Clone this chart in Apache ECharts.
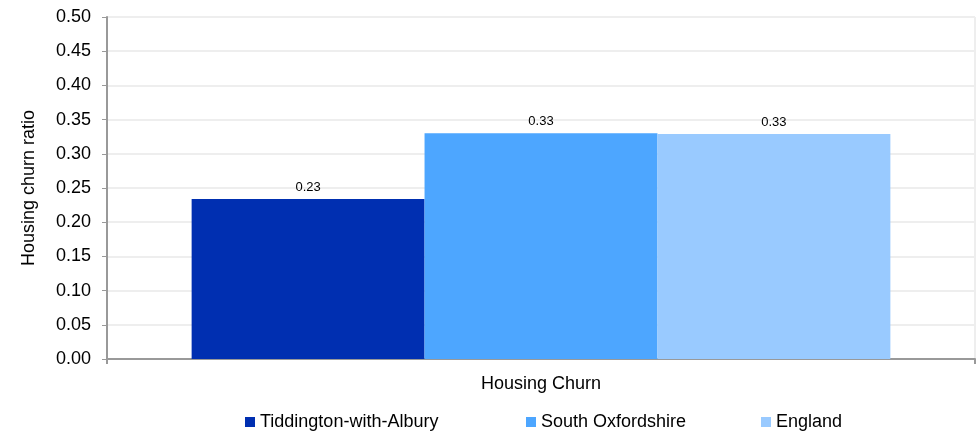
<!DOCTYPE html>
<html><head><meta charset="utf-8">
<script src="https://cdn.jsdelivr.net/npm/echarts@6/dist/echarts.min.js"></script>
<style>html,body{margin:0;padding:0;background:#fff}#c{width:978px;height:433px}</style>
</head><body><div id="c"></div>
<script>
const categories = ['Housing Churn'];
const seriesNames = ['Tiddington-with-Albury', 'South Oxfordshire', 'England'];
const tiddington = [0.234];
const southOxon = [0.330];
const england = [0.329];
const colors = ['#002FB1', '#4DA6FF', '#99CAFF'];
const font = 'Liberation Sans, Arial, sans-serif';

const chart = echarts.init(document.getElementById('c'));
const mk = (name, data, color) => ({
  name, type: 'bar', data, barGap: '0%', barCategoryGap: '19.5%',
  itemStyle: { color },
  label: { show: true, position: 'top', formatter: p => p.value.toFixed(2), fontFamily: font, fontSize: 13, color: '#000', distance: 5 }
});
const legendLefts = [240, 521, 756];
chart.setOption({
  animation: false,
  textStyle: { fontFamily: font },
  grid: { left: 107, right: 3, top: 17, bottom: 74 },
  legend: seriesNames.map((n, i) => ({
    top: 408, left: legendLefts[i], itemWidth: 10, itemHeight: 10, itemGap: 0, padding: [5, 5, 5, 5],
    icon: 'rect', textStyle: { fontFamily: font, fontSize: 18, color: '#000' },
    data: [n]
  })),
  xAxis: {
    type: 'category', data: categories,
    axisLine: { lineStyle: { color: '#999', width: 2 } },
    axisTick: { show: true, length: 5, lineStyle: { color: '#999', width: 2 } },
    axisLabel: { fontFamily: font, fontSize: 18, color: '#000', margin: 16 },
    splitLine: { show: true, lineStyle: { color: '#eee', width: 2 } }
  },
  yAxis: {
    type: 'value', min: 0, max: 0.5, interval: 0.05,
    name: 'Housing churn ratio', nameLocation: 'middle', nameGap: 69,
    nameTextStyle: { fontFamily: font, fontSize: 18, color: '#000' },
    axisLine: { show: true, lineStyle: { color: '#999', width: 2 } },
    axisTick: { show: true, length: 5, lineStyle: { color: '#999' } },
    axisLabel: { fontFamily: font, fontSize: 18, color: '#000', margin: 16, formatter: v => v.toFixed(2) },
    splitLine: { show: true, lineStyle: { color: '#eee', width: 2 } }
  },
  series: [mk(seriesNames[0], tiddington, colors[0]), mk(seriesNames[1], southOxon, colors[1]), mk(seriesNames[2], england, colors[2])]
});
</script></body></html>
